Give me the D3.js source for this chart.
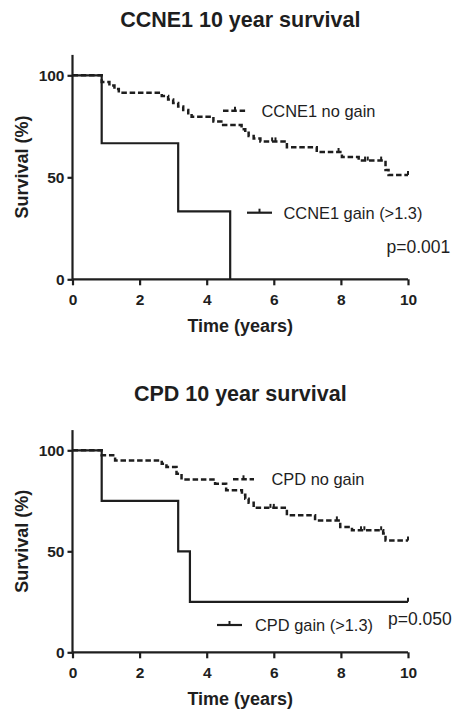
<!DOCTYPE html>
<html>
<head>
<meta charset="utf-8">
<script src="https://cdn.jsdelivr.net/npm/d3@7"></script>
<style>
  html, body { margin: 0; padding: 0; background: #fff; }
  svg { display: block; }
  text { font-family: "Liberation Sans", Arial, sans-serif; fill: #1e1e1e; }
</style>
</head>
<body>
<svg id="chart" width="453" height="709"></svg>
<script>
// Kaplan–Meier step data (time in years, survival in %)
const ccne1NoGainTime = [0, 0.87, 1.1, 1.25, 1.38, 2.66, 2.85, 3.0, 3.15, 3.3, 3.45, 3.55, 4.2, 4.49, 5.04, 5.15, 5.25, 5.4, 5.6, 6.39, 7.28, 8.03, 8.53, 9.33, 9.42, 10];
const ccne1NoGainSurv = [100, 96.7, 95.0, 93.3, 91.4, 89.8, 88.1, 86.4, 84.7, 83.0, 81.4, 79.7, 77.3, 75.6, 73.5, 71.8, 70.2, 69.0, 67.6, 64.7, 62.4, 59.9, 58.2, 53.6, 51.1, 51.1];
const ccne1NoGainCensor = [5.95, 6.05, 7.93, 8.72, 8.8, 9.2, 10];

const ccne1GainTime = [0, 0.87, 3.15, 4.70];
const ccne1GainSurv = [100, 66.7, 33.3, 0];
const ccne1GainCensor = [];

const cpdNoGainTime = [0, 0.87, 1.27, 2.66, 2.8, 3.1, 3.25, 4.25, 4.58, 5.05, 5.15, 5.25, 5.4, 6.39, 7.23, 7.98, 8.33, 9.26, 9.33, 10];
const cpdNoGainSurv = [100, 97.5, 95.0, 93.3, 91.7, 88.4, 85.5, 83.5, 80.2, 78.0, 76.0, 74.0, 71.5, 67.8, 65.3, 62.0, 60.4, 58.8, 55.4, 55.4];
const cpdNoGainCensor = [5.9, 6.0, 7.88, 8.6, 8.7, 9.2, 10];

const cpdGainTime = [0, 0.87, 3.15, 3.50, 10];
const cpdGainSurv = [100, 75, 50, 25, 25];
const cpdGainCensor = [10];

const xTicks = [0, 2, 4, 6, 8, 10];
const yTicks = [0, 50, 100];

const panels = [
  {
    title: "CCNE1 10 year survival",
    noGain: { label: "CCNE1 no gain", t: ccne1NoGainTime, s: ccne1NoGainSurv, c: ccne1NoGainCensor },
    gain: { label: "CCNE1 gain (>1.3)", t: ccne1GainTime, s: ccne1GainSurv, c: ccne1GainCensor },
    pValue: "p=0.001",
    layout: { yZero: 279.3, yHundred: 75.3, titleY: 26.5,
      leg1: { x0: 223, x1: 247, y: 110.7, tx: 261.5 },
      leg2: { x0: 247, x1: 272, y: 212.7, tx: 283.5 },
      p: { x: 386.5, y: 246.7 } }
  },
  {
    title: "CPD 10 year survival",
    noGain: { label: "CPD no gain", t: cpdNoGainTime, s: cpdNoGainSurv, c: cpdNoGainCensor },
    gain: { label: "CPD gain (>1.3)", t: cpdGainTime, s: cpdGainSurv, c: cpdGainCensor },
    pValue: "p=0.050",
    layout: { yZero: 652.3, yHundred: 450.3, titleY: 400.5,
      leg1: { x0: 233, x1: 254, y: 479.3, tx: 271.5 },
      leg2: { x0: 217, x1: 242, y: 625, tx: 255 },
      p: { x: 388, y: 619 } }
  }
];

const svg = d3.select("#chart");
const xLeft = 72.5, xRight = 408;
const ink = "#1e1e1e";

function drawPanel(p) {
  const L = p.layout;
  const x = d3.scaleLinear().domain([0, 10]).range([xLeft, xRight]);
  const perPct = (L.yZero - L.yHundred) / 100;
  const y = d3.scaleLinear().domain([0, 110]).range([L.yZero, L.yZero - 110 * perPct]);

  const g = svg.append("g");

  // Title
  g.append("text")
    .attr("x", (xLeft + xRight) / 2).attr("y", L.titleY)
    .attr("text-anchor", "middle")
    .style("font-size", "21.5px").style("font-weight", "bold")
    .text(p.title);

  // Axes
  const xAxis = d3.axisBottom(x).tickValues(xTicks).tickSize(6).tickPadding(5).tickFormat(d3.format("d"));
  const yAxis = d3.axisLeft(y).tickValues(yTicks).tickSize(5).tickPadding(3).tickFormat(d3.format("d"));

  const gx = g.append("g").attr("transform", `translate(0,${L.yZero})`).call(xAxis);
  const gy = g.append("g").attr("transform", `translate(${xLeft},0)`).call(yAxis);
  [gx, gy].forEach(a => {
    a.select(".domain").attr("stroke", ink).attr("stroke-width", 2.2);
    a.selectAll(".tick line").attr("stroke", ink).attr("stroke-width", 2.2);
    a.selectAll(".tick text").attr("fill", ink)
      .style("font-family", "Liberation Sans, Arial, sans-serif")
      .style("font-size", "15.5px").style("font-weight", "bold");
  });
  gx.select(".domain").attr("d", `M${xLeft},0H${xRight}`);
  gy.select(".domain").attr("d", `M0,${y(110)}V${L.yZero}`);
  gx.selectAll(".tick text").attr("dy", "0.95em");
  gy.selectAll(".tick text").attr("dy", "0.36em");

  // Axis titles
  g.append("text")
    .attr("x", (xLeft + xRight) / 2).attr("y", L.yZero + 52.5)
    .attr("text-anchor", "middle")
    .style("font-size", "18px").style("font-weight", "bold")
    .text("Time (years)");
  g.append("text")
    .attr("transform", `translate(27.5,${(y(110) + L.yZero) / 2}) rotate(-90)`)
    .attr("text-anchor", "middle")
    .style("font-size", "18px").style("font-weight", "bold")
    .text("Survival (%)");

  const line = d3.line().x(d => x(d[0])).y(d => y(d[1])).curve(d3.curveStepAfter);

  function drawCurve(series, dashed) {
    const pts = series.t.map((t, i) => [t, series.s[i]]);
    g.append("path")
      .attr("d", line(pts))
      .attr("fill", "none").attr("stroke", ink).attr("stroke-width", dashed ? 2.5 : 2.2)
      .attr("stroke-dasharray", dashed ? "5.5,2.8" : null);
    // censor ticks
    const survAt = t => {
      let v = series.s[0];
      series.t.forEach((tt, i) => { if (tt <= t) v = series.s[i]; });
      return v;
    };
    series.c.forEach(t => {
      g.append("line")
        .attr("x1", x(t)).attr("x2", x(t))
        .attr("y1", y(survAt(t))).attr("y2", y(survAt(t)) - 4)
        .attr("stroke", ink).attr("stroke-width", 2);
    });
  }

  drawCurve(p.noGain, true);
  drawCurve(p.gain, false);

  // Legend
  function legendItem(it, label, dashed) {
    g.append("line")
      .attr("x1", it.x0).attr("x2", it.x1).attr("y1", it.y).attr("y2", it.y)
      .attr("stroke", ink).attr("stroke-width", dashed ? 2.5 : 2.2)
      .attr("stroke-dasharray", dashed ? "5.5,2.8" : null);
    const mid = (it.x0 + it.x1) / 2;
    g.append("line")
      .attr("x1", mid).attr("x2", mid).attr("y1", it.y).attr("y2", it.y - 4)
      .attr("stroke", ink).attr("stroke-width", 2);
    g.append("text")
      .attr("x", it.tx).attr("y", it.y).attr("dy", "0.36em")
      .style("font-size", "16.4px")
      .text(label);
  }
  legendItem(L.leg1, p.noGain.label, true);
  legendItem(L.leg2, p.gain.label, false);

  g.append("text")
    .attr("x", L.p.x).attr("y", L.p.y).attr("dy", "0.36em")
    .style("font-size", "17.5px")
    .text(p.pValue);
}

panels.forEach(drawPanel);
</script>
</body>
</html>
